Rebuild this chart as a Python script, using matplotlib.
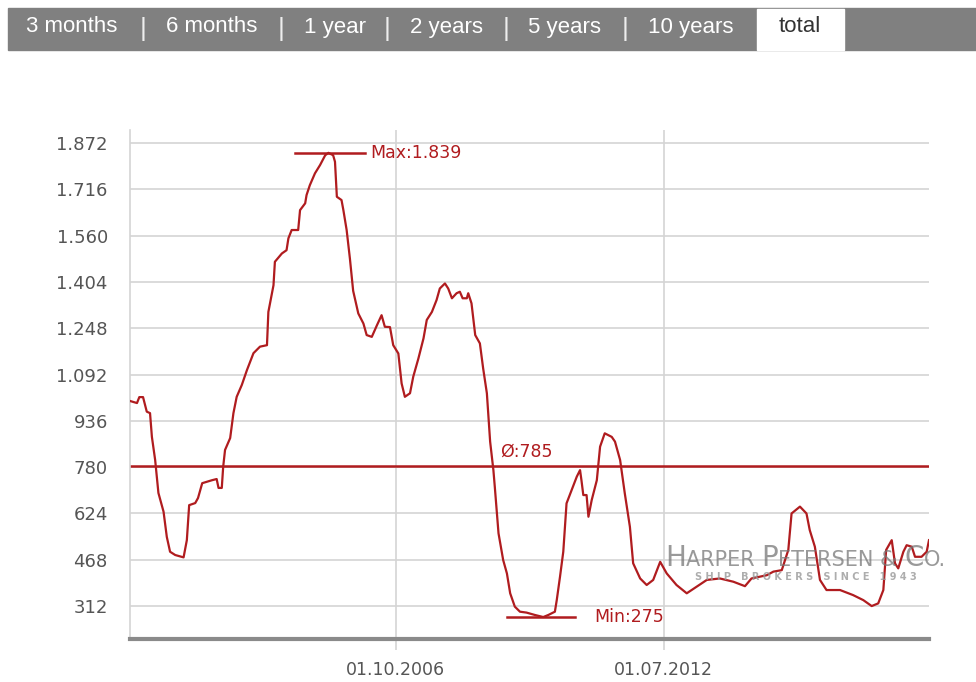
import datetime as dt
import matplotlib
matplotlib.use("Agg")
import matplotlib.pyplot as plt
from matplotlib.patches import Rectangle
from matplotlib.offsetbox import TextArea, HPacker, AnnotationBbox

# index history, time as decimal year
years = [2001.04, 2001.19, 2001.24, 2001.32, 2001.40, 2001.47, 2001.51, 2001.58,
         2001.65, 2001.76, 2001.83, 2001.90, 2002.01, 2002.19, 2002.26, 2002.31,
         2002.44, 2002.50, 2002.59, 2002.80, 2002.90, 2002.94, 2003.01, 2003.04,
         2003.08, 2003.19, 2003.26, 2003.33, 2003.44, 2003.55, 2003.69, 2003.83,
         2003.98, 2004.01, 2004.12, 2004.15, 2004.30, 2004.40, 2004.44, 2004.51,
         2004.65, 2004.69, 2004.80, 2004.83, 2004.90, 2005.01, 2005.12, 2005.23,
         2005.30, 2005.40, 2005.44, 2005.48, 2005.58, 2005.62, 2005.69, 2005.76,
         2005.83, 2005.94, 2006.05, 2006.12, 2006.23, 2006.34, 2006.44, 2006.51,
         2006.62, 2006.69, 2006.80, 2006.87, 2006.94, 2007.05, 2007.12, 2007.23,
         2007.34, 2007.41, 2007.52, 2007.62, 2007.69, 2007.80, 2007.87, 2007.95,
         2008.05, 2008.12, 2008.18, 2008.27, 2008.30, 2008.37, 2008.45, 2008.55,
         2008.62, 2008.70, 2008.77, 2008.84, 2008.87, 2008.95, 2009.05, 2009.13,
         2009.20, 2009.30, 2009.41, 2009.55, 2009.73, 2009.91, 2010.02, 2010.16,
         2010.20, 2010.27, 2010.34, 2010.41, 2010.52, 2010.63, 2010.70, 2010.73,
         2010.77, 2010.84, 2010.88, 2010.95, 2011.06, 2011.13, 2011.23, 2011.38,
         2011.45, 2011.56, 2011.66, 2011.77, 2011.84, 2011.99, 2012.13, 2012.27,
         2012.42, 2012.56, 2012.77, 2012.99, 2013.20, 2013.42, 2013.70, 2013.99,
         2014.24, 2014.38, 2014.71, 2014.85, 2015.03, 2015.17, 2015.24, 2015.42,
         2015.56, 2015.63, 2015.74, 2015.85, 2015.99, 2016.28, 2016.56, 2016.78,
         2016.96, 2017.10, 2017.21, 2017.27, 2017.39, 2017.46, 2017.53, 2017.64,
         2017.71, 2017.82, 2017.89, 2018.03, 2018.14, 2018.19]
values = [1003, 996, 1016, 1016, 967, 962, 882, 804,
          693, 630, 545, 495, 484, 476, 534, 652,
          659, 676, 726, 736, 740, 710, 710, 781,
          838, 878, 962, 1017, 1057, 1107, 1164, 1186,
          1191, 1303, 1393, 1472, 1500, 1511, 1551, 1579,
          1579, 1646, 1669, 1697, 1730, 1770, 1798, 1831,
          1839, 1831, 1809, 1691, 1680, 1646, 1579, 1483,
          1374, 1298, 1264, 1225, 1219, 1258, 1292, 1253,
          1252, 1191, 1163, 1062, 1017, 1029, 1085, 1146,
          1214, 1276, 1303, 1343, 1382, 1399, 1382, 1349,
          1366, 1371, 1349, 1349, 1366, 1332, 1225, 1197,
          1113, 1029, 866, 770, 714, 557, 467, 422,
          355, 310, 293, 290, 282, 275, 282, 293,
          332, 411, 495, 658, 703, 748, 770, 736,
          686, 686, 613, 669, 736, 849, 894, 882,
          866, 804, 692, 579, 456, 405, 383, 400,
          461, 422, 383, 355, 377, 400, 405, 394,
          379, 405, 416, 428, 433, 501, 624, 647,
          624, 568, 512, 400, 366, 366, 349, 332,
          312, 321, 366, 501, 534, 456, 439, 495,
          517, 512, 478, 478, 495, 534]
avg_value = 785

y_ticks = [312, 468, 624, 780, 936, 1092, 1248, 1404, 1560, 1716, 1872]
x_tick_dates = [dt.date(2006, 10, 1), dt.date(2012, 7, 1)]
tabs = ["3 months", "6 months", "1 year", "2 years", "5 years", "10 years", "total"]

RED = "#b01c1f"
GRID = "#d4d4d4"
W, H = 976, 682


def dec_year(d):
    start = dt.date(d.year, 1, 1)
    days = (dt.date(d.year + 1, 1, 1) - start).days
    return d.year + (d - start).days / days


def de_num(v):
    return f"{v:,.0f}".replace(",", ".")


fig = plt.figure(figsize=(W / 100, H / 100), dpi=100)

# tab bar
fig.patches.append(Rectangle((8 / W, 1 - 50 / H), 1 - 8 / W, 42 / H,
                             transform=fig.transFigure, color="#808080", zorder=0))
fig.patches.append(Rectangle((757 / W, 1 - 50 / H), 87 / W, 41 / H,
                             transform=fig.transFigure, color="white", zorder=1))
tab_x = [72, 212, 335, 446, 565, 691, 800]
sep_x = [143, 281, 387, 506, 625]
for label, x in zip(tabs, tab_x):
    fig.text(x / W, 1 - 27 / H, label, ha="center", va="center",
             fontsize=16, family="Liberation Sans",
             color="#333333" if label == "total" else "white")
for x in sep_x:
    fig.text(x / W, 1 - 29 / H, "|", ha="center", va="center",
             fontsize=19, family="Liberation Sans", color="#eeeeee")

ax = fig.add_axes([130 / W, 1 - 639 / H, 799 / W, 509 / H])
ax.plot(years, values, color=RED, lw=1.6, zorder=3)

ax.set_xlim(years[0], years[-1])
ax.set_ylim(201, 1916)
ax.set_yticks(y_ticks)
ax.set_yticklabels([de_num(v) for v in y_ticks])
ax.set_xticks([dec_year(d) for d in x_tick_dates])
ax.set_xticklabels([d.strftime("%d.%m.%Y") for d in x_tick_dates])
ax.grid(True, color=GRID, lw=1.2)
ax.tick_params(axis="y", length=0, pad=16, labelsize=13, labelcolor="#555555")
ax.tick_params(axis="x", length=8, width=1.2, color=GRID, pad=8,
               labelsize=12.5, labelcolor="#555555")
for side in ["top", "right"]:
    ax.spines[side].set_visible(False)
ax.spines["left"].set_color(GRID)
ax.spines["left"].set_linewidth(1.2)
ax.spines["bottom"].set_color("#8a8a8a")
ax.spines["bottom"].set_linewidth(3)

# average, max and min markers
ax.axhline(avg_value, color=RED, lw=1.8, zorder=2)
ax.text(2008.98, avg_value + 18, "Ø:" + de_num(avg_value), color=RED,
        fontsize=12.5, va="bottom", ha="left")

i_max = values.index(max(values))
i_min = values.index(min(values))
x_max, v_max = years[i_max], values[i_max]
x_min, v_min = years[i_min], values[i_min]
ax.plot([x_max - 0.72, x_max + 0.78], [v_max, v_max], color=RED, lw=1.8)
ax.text(x_max + 0.9, v_max, "Max:" + de_num(v_max), color=RED,
        fontsize=12.5, va="center", ha="left")
ax.plot([x_min - 0.78, x_min + 0.68], [v_min, v_min], color=RED, lw=1.8)
ax.text(x_min + 1.1, v_min, "Min:" + de_num(v_min), color=RED,
        fontsize=12.5, va="center", ha="left")

# company watermark
wm = dict(color="#777777", alpha=0.75, family="DejaVu Sans")
parts = [("H", 20), ("ARPER ", 15), ("P", 20), ("ETERSEN ", 15),
         ("& ", 16), ("C", 20), ("O.", 15)]
boxes = [TextArea(t, textprops=dict(fontsize=s, **wm)) for t, s in parts]
row = HPacker(children=boxes, align="baseline", pad=0, sep=0)
fig.add_artist(AnnotationBbox(row, (806 / W, 1 - 558 / H), xycoords="figure fraction",
                              frameon=False, box_alignment=(0.5, 0.5), zorder=1))
fig.text(806 / W, 1 - 577 / H, "S H I P   B R O K E R S   S I N C E   1 9 4 3",
         ha="center", va="center", fontsize=7, fontweight="bold",
         color="#999999", alpha=0.8)

fig.savefig("out.png", dpi=100)
